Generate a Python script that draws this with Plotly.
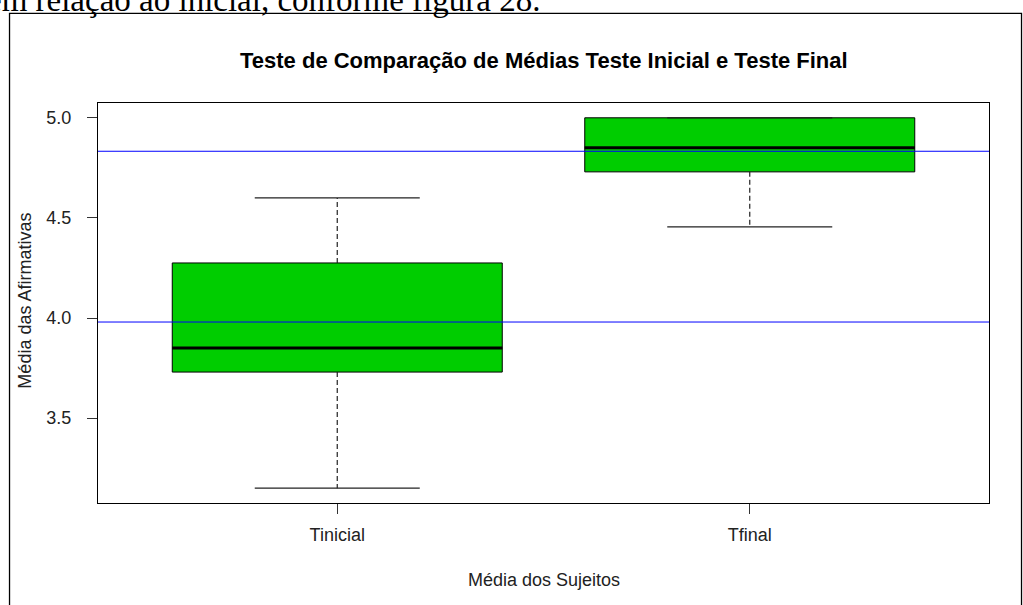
import plotly.graph_objects as go

# ---- data ----
categories = ["Tinicial", "Tfinal"]
positions = [1, 2]
w_low = [3.15, 4.455]
q1 = [3.73, 4.73]
median = [3.85, 4.85]
q3 = [4.275, 5.0]
w_high = [4.60, 5.0]
means = [3.98, 4.833]
y_ticks = [3.5, 4.0, 4.5, 5.0]

title = "Teste de Comparação de Médias Teste Inicial e Teste Final"
x_title = "Média dos Sujeitos"
y_title = "Média das Afirmativas"
doc_text = "em relação ao inicial, conforme figura 28."

# ---- style ----
BOX_W = 0.8
CAP_W = 0.4
GREEN = "#00CD00"
FONT = "Liberation Sans"

fig = go.Figure()

for i, cat in enumerate(categories):
    p = positions[i]
    fig.add_trace(go.Box(
        x=[p], q1=[q1[i]], median=[median[i]], q3=[q3[i]],
        lowerfence=[q1[i]], upperfence=[q3[i]],
        width=BOX_W, whiskerwidth=0, boxpoints=False,
        fillcolor=GREEN, line=dict(color="black", width=1),
        showlegend=False, hoverinfo="skip", name=cat,
    ))
    # dashed whiskers
    fig.add_trace(go.Scatter(
        x=[p, p, None, p, p], y=[q3[i], w_high[i], None, q1[i], w_low[i]],
        mode="lines", line=dict(color="#222", width=1.2, dash="5px,3px"),
        showlegend=False, hoverinfo="skip",
    ))
    # staples
    fig.add_trace(go.Scatter(
        x=[p - CAP_W / 2, p + CAP_W / 2, None, p - CAP_W / 2, p + CAP_W / 2],
        y=[w_high[i], w_high[i], None, w_low[i], w_low[i]],
        mode="lines", line=dict(color="#222", width=1.2),
        showlegend=False, hoverinfo="skip",
    ))
    # thick median
    fig.add_trace(go.Scatter(
        x=[p - BOX_W / 2, p + BOX_W / 2], y=[median[i], median[i]],
        mode="lines", line=dict(color="black", width=3),
        showlegend=False, hoverinfo="skip",
    ))

# mean lines (abline) on top
for m in means:
    fig.add_shape(type="line", xref="paper", yref="y", x0=0, x1=1, y0=m, y1=m,
                  line=dict(color="#0000FF", width=1), layer="above")

# document frame
fig.add_shape(type="rect", xref="paper", yref="paper",
              x0=-0.0993, x1=1.0365, y0=-0.49, y1=1.2243,
              line=dict(color="black", width=1.3), fillcolor="rgba(0,0,0,0)", layer="above")

lo, hi = min(w_low), max(w_high)
pad = (hi - lo) * 0.04
n = len(categories)
xpad = n * 0.04

fig.update_layout(
    width=1023, height=605,
    margin=dict(l=98, r=34, t=103, b=102),
    paper_bgcolor="white", plot_bgcolor="white",
    font=dict(family=FONT, size=18, color="black"),
    xaxis=dict(range=[0.5 - xpad, n + 0.5 + xpad], tickvals=positions, ticktext=categories,
               showgrid=False, zeroline=False, showline=True, mirror=True,
               linecolor="black", linewidth=1, ticks="outside", ticklen=10,
               tickcolor="#333", tickfont=dict(family=FONT, size=18, color="#222"),
               ticklabelstandoff=5),
    yaxis=dict(range=[lo - pad, hi + pad], tickvals=y_ticks,
               ticktext=[f"{v:.1f}" for v in y_ticks],
               showgrid=False, zeroline=False, showline=True, mirror=True,
               linecolor="black", linewidth=1, ticks="outside", ticklen=10,
               tickcolor="#333", tickfont=dict(family=FONT, size=18, color="#222"),
               ticklabelstandoff=12),
    annotations=[
        dict(text=f"<b>{title}</b>", xref="paper", yref="paper", x=0.5, y=1.1075,
             xanchor="center", yanchor="middle", showarrow=False,
             font=dict(family=FONT, size=22, color="black")),
        dict(text=x_title, xref="paper", yref="paper", x=0.5, y=-0.1925,
             xanchor="center", yanchor="middle", showarrow=False,
             font=dict(family=FONT, size=18, color="#222")),
        dict(text=y_title, xref="paper", yref="paper", x=-0.0819, y=0.506,
             xanchor="center", yanchor="middle", textangle=-90, showarrow=False,
             font=dict(family=FONT, size=18, color="#222")),
        dict(text=doc_text, xref="paper", yref="paper", x=-0.1265, y=1.2575,
             xanchor="left", yanchor="middle", showarrow=False,
             font=dict(family="Liberation Serif", size=33, color="black")),
    ],
)

fig.write_html("out.html", config={"displayModeBar": False},
               post_script="document.body.style.margin='0';document.body.style.overflow='hidden';")
